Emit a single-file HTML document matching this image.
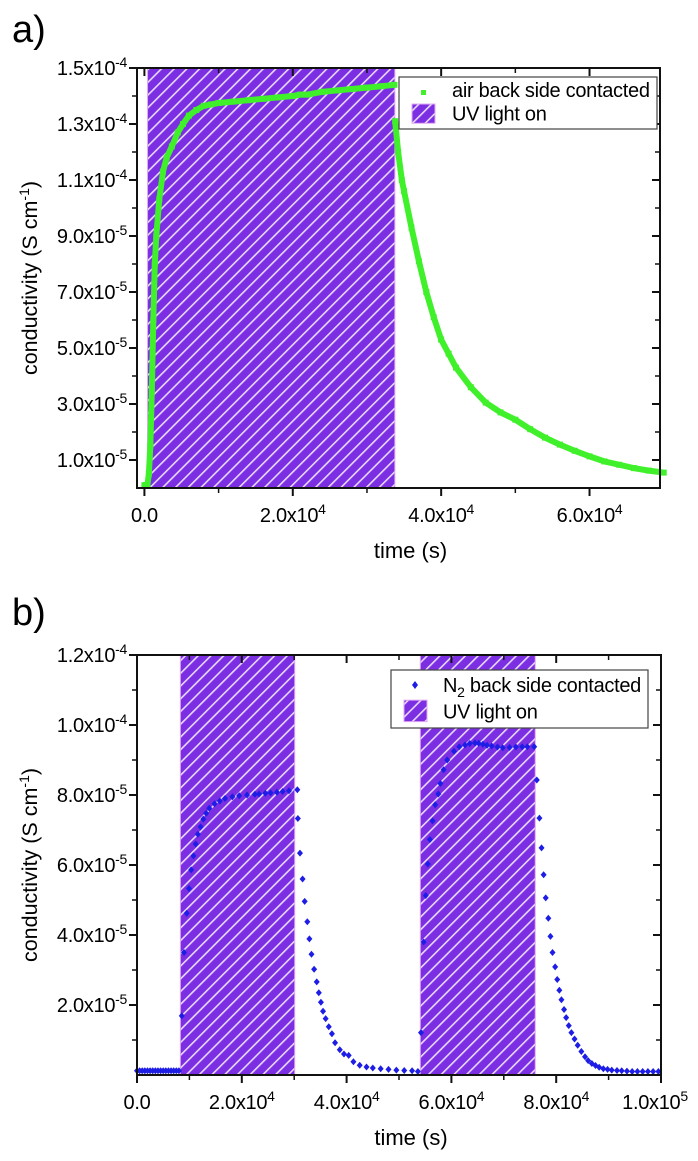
<!DOCTYPE html>
<html><head><meta charset="utf-8"><style>
html,body{margin:0;padding:0;background:#fff;}
svg{display:block;font-family:"Liberation Sans",Arial,sans-serif;}
</style></head><body>
<svg id="chart" width="698" height="1161" viewBox="0 0 698 1161">
<defs>
<pattern id="hatch" patternUnits="userSpaceOnUse" width="9" height="9" patternTransform="rotate(45)">
<rect width="9" height="9" fill="#7c2fe2"/>
<rect x="0" y="0" width="1.6" height="9" fill="#e8d8ff"/>
</pattern>
</defs>
<text x="12" y="42" font-size="38">a)</text>
<text x="12" y="625" font-size="38">b)</text>
<g id="pa"></g>
<g id="pb"></g>
</svg>
<script>
// ---- Panel a data ----
const aTimes = [0,200,400,600,800,1000,1200,1400,1600,2000,2500,3000,3700,4500,5200,6000,7000,8000,9000,10000,12000,14000,16000,18000,20000,21000,22000,24000,26000,28000,30000,32000,33700,
33800,34200,34700,35000,36000,37000,38000,39000,40000,41000,42000,44000,46000,48000,50000,52000,54000,56000,58000,60000,62000,64000,66000,68000,70000];
const aValues = [0.1,0.1,0.1,0.5,1.5,3.5,6,8,9,10.3,11.3,11.8,12.2,12.7,13.0,13.3,13.5,13.65,13.7,13.75,13.8,13.85,13.9,13.95,14.0,14.05,14.05,14.15,14.2,14.25,14.3,14.35,14.4,
13.1,12.0,11.0,10.6,9.3,8.1,7.0,6.1,5.3,4.8,4.3,3.6,3.05,2.7,2.44,2.1,1.8,1.55,1.33,1.13,0.95,0.83,0.71,0.62,0.55];
const aUV = [420, 33760];
const aYTicks = [1.0e-5,3.0e-5,5.0e-5,7.0e-5,9.0e-5,1.1e-4,1.3e-4,1.5e-4];
const aYTickLabels = [["1.0","-5"],["3.0","-5"],["5.0","-5"],["7.0","-5"],["9.0","-5"],["1.1","-4"],["1.3","-4"],["1.5","-4"]];
const aXTicks = [0,20000,40000,60000];
const aXTickLabels = [["0.0",""],["2.0","4"],["4.0","4"],["6.0","4"]];

// ---- Panel b data ----
const bTimes = [0,500,1000,1500,2000,2500,3000,3500,4000,4500,5000,5500,6000,6500,7000,7500,8000,
8550,8970,9490,9920,10340,10770,11200,11620,12140,12650,13200,13800,14800,15800,16800,18200,19500,21000,22500,23300,24500,25500,26700,27800,29000,30600,
30700,31100,31600,32000,32500,32900,33300,33800,34300,34700,35100,35500,36000,36600,37200,37800,38700,39500,40400,41300,42500,43800,45000,46500,48000,49500,51000,52500,53600,
54200,54700,55100,55500,55900,56400,56900,57500,57900,58500,59200,60500,61500,62600,63500,64500,65200,66000,66800,67700,68800,69800,71100,72300,73500,74500,75800,
76300,76800,77200,77600,78000,78500,78900,79300,79800,80200,80600,81000,81500,81900,82400,82900,83500,84100,84800,85500,86100,86800,87500,88200,89000,89800,90600,91600,92500,93500,94500,95500,96500,97500,98500,99500];
const bValues = [0.12,0.12,0.12,0.12,0.12,0.12,0.12,0.12,0.12,0.12,0.12,0.12,0.12,0.12,0.12,0.12,0.12,
1.69,3.5,4.62,5.33,5.86,6.26,6.6,6.88,7.09,7.31,7.48,7.62,7.75,7.83,7.9,7.95,7.98,8.0,8.02,8.03,8.05,8.06,8.08,8.1,8.12,8.15,
7.33,6.34,5.6,4.96,4.38,3.89,3.45,3.02,2.66,2.35,2.08,1.82,1.61,1.38,1.18,0.92,0.72,0.6,0.56,0.38,0.28,0.23,0.2,0.18,0.16,0.14,0.13,0.12,0.1,
1.21,3.8,5.13,6.03,6.73,7.26,7.72,8.03,8.33,8.72,9.0,9.25,9.38,9.43,9.47,9.49,9.48,9.45,9.42,9.4,9.37,9.35,9.36,9.37,9.38,9.38,9.38,
8.43,7.34,6.49,5.72,5.06,4.48,3.96,3.5,3.09,2.73,2.42,2.15,1.87,1.64,1.41,1.21,1.03,0.85,0.67,0.52,0.41,0.33,0.27,0.22,0.18,0.16,0.14,0.13,0.12,0.11,0.1,0.1,0.1,0.1,0.1,0.1];
const bUV = [[8280, 30100],[54070, 76000]];
const bYTicks = [2e-5,4e-5,6e-5,8e-5,1e-4,1.2e-4];
const bYTickLabels = [["2.0","-5"],["4.0","-5"],["6.0","-5"],["8.0","-5"],["1.0","-4"],["1.2","-4"]];
const bXTicks = [0,20000,40000,60000,80000,100000];
const bXTickLabels = [["0.0",""],["2.0","4"],["4.0","4"],["6.0","4"],["8.0","4"],["1.0","5"]];

const NS = "http://www.w3.org/2000/svg";
function mk(parent, tag, attrs){const e=document.createElementNS(NS,tag);for(const k in attrs)e.setAttribute(k,attrs[k]);parent.appendChild(e);return e;}

function sciLabel(g, x, y, parts, anchor){
  const t = mk(g,'text',{x:x,y:y,'font-size':20,'text-anchor':anchor,'letter-spacing':'-0.3'});
  
  
  if(parts[1]===""){t.textContent=parts[0];return t;}
  const a=document.createElementNS(NS,'tspan');a.textContent=parts[0]+"x10";t.appendChild(a);
  const b=document.createElementNS(NS,'tspan');b.setAttribute('dy','-8');b.setAttribute('font-size','14');b.textContent=parts[1];t.appendChild(b);
  return t;
}

function drawPanel(g, cfg){
  const {L,R,T,B,x0,x1,y0,y1} = cfg;
  const sx = v => L + (v-x0)/(x1-x0)*(R-L);
  const sy = v => B - (v-y0)/(y1-y0)*(B-T);
  cfg.uv.forEach(u=>{
    const r = mk(g,'rect',{x:sx(u[0]),y:T,width:sx(u[1])-sx(u[0]),height:B-T,fill:'url(#hatch)',stroke:'#e0a8f0','stroke-width':1});
    
    
  });
  if(cfg.line){
    const pts = cfg.times.map((t,i)=>sx(t)+','+sy(cfg.values[i]*1e-5));
    const p1 = pts.slice(0,cfg.breakAt), p2 = pts.slice(cfg.breakAt);
    [p1,p2].forEach(p=>{
      const pl = mk(g,'polyline',{points:p.join(' '),fill:'none',stroke:cfg.color,'stroke-width':6,'stroke-linejoin':'round'});
      
      
    });
    cfg.times.forEach((t,i)=>{
      const r = mk(g,'rect',{x:sx(t)-3,y:sy(cfg.values[i]*1e-5)-3,width:6,height:6,fill:cfg.color});
      
      
    });
  } else {
    cfg.times.forEach((t,i)=>{
      const cx=sx(t), cy=sy(cfg.values[i]*1e-5);
      const d = mk(g,'polygon',{points:`${cx},${cy-3.5} ${cx+3},${cy} ${cx},${cy+3.5} ${cx-3},${cy}`,fill:cfg.color});
      
      
    });
  }
  const f = mk(g,'rect',{x:L,y:T,width:R-L,height:B-T,fill:'none',stroke:'#111','stroke-width':2});
  
  
  const yStep = cfg.yTicks[1]-cfg.yTicks[0];
  cfg.yTicks.forEach((v,i)=>{
    const y = sy(v);
    mk(g,'line',{x1:L-8,x2:L,y1:y,y2:y,stroke:'#111','stroke-width':2});
    mk(g,'line',{x1:R-8,x2:R,y1:y,y2:y,stroke:'#111','stroke-width':2});
    const ym = sy(v - yStep/2);
    if(ym<B-2){mk(g,'line',{x1:L-5,x2:L,y1:ym,y2:ym,stroke:'#111','stroke-width':1.5});mk(g,'line',{x1:R-5,x2:R,y1:ym,y2:ym,stroke:'#111','stroke-width':1.5});}
    sciLabel(g, L-10, y+7, cfg.yLabels[i], 'end');
  });
  const xStep = cfg.xTicks[1]-cfg.xTicks[0];
  cfg.xTicks.forEach((v,i)=>{
    const x = sx(v);
    mk(g,'line',{x1:x,x2:x,y1:B,y2:B+8,stroke:'#111','stroke-width':2});
    mk(g,'line',{x1:x,x2:x,y1:T,y2:T+8,stroke:'#111','stroke-width':2});
    const xm = sx(v + xStep/2);
    if(xm<R-2){mk(g,'line',{x1:xm,x2:xm,y1:B,y2:B+5,stroke:'#111','stroke-width':1.5});mk(g,'line',{x1:xm,x2:xm,y1:T,y2:T+5,stroke:'#111','stroke-width':1.5});}
    sciLabel(g, x+(cfg.xLabelShift[i]||0), B+34, cfg.xLabels[i], 'middle');
  });
  const xt = mk(g,'text',{x:(L+R)/2+12,y:B+70,'font-size':22,'text-anchor':'middle'});
  xt.textContent='time (s)';
  
  
  const cy=(T+B)/2;
  const yt = mk(g,'text',{x:0,y:0,'font-size':21.5,'text-anchor':'middle',transform:`translate(37,${cy}) rotate(-90)`});
  
  
  const s1=document.createElementNS(NS,'tspan');s1.textContent='conductivity (S cm';yt.appendChild(s1);
  const s2=document.createElementNS(NS,'tspan');s2.setAttribute('dy','-8');s2.setAttribute('font-size','14');s2.textContent='-1';yt.appendChild(s2);
  const s3=document.createElementNS(NS,'tspan');s3.setAttribute('dy','8');s3.textContent=')';yt.appendChild(s3);
  const lg = cfg.legend;
  const lgG = mk(g,'g',{});
  
  
  mk(lgG,'rect',{x:lg.x,y:lg.y,width:lg.w,height:lg.h,fill:'#fff',stroke:'#444','stroke-width':1.2});
  if(cfg.line) mk(lgG,'rect',{x:lg.x+22,y:lg.y+13,width:5,height:5,fill:cfg.color});
  else mk(lgG,'polygon',{points:`${lg.x+24},${lg.y+11} ${lg.x+27},${lg.y+15} ${lg.x+24},${lg.y+19} ${lg.x+21},${lg.y+15}`,fill:cfg.color});
  mk(lgG,'rect',{x:lg.x+13,y:lg.y+lg.h*0.52,width:23,height:lg.h*0.37,fill:'url(#hatch)',stroke:'#e0a8f0','stroke-width':1});
  const t1 = mk(lgG,'text',{x:lg.x+lg.tx,y:lg.y+lg.h*0.38,'font-size':20,'letter-spacing':'-0.3'});
  
  
  if(cfg.line) t1.textContent='air back side contacted';
  else { const a=document.createElementNS(NS,'tspan');a.textContent='N';t1.appendChild(a);
    const b=document.createElementNS(NS,'tspan');b.setAttribute('dy','5');b.setAttribute('font-size','14');b.textContent='2';t1.appendChild(b);
    const c=document.createElementNS(NS,'tspan');c.setAttribute('dy','-5');c.textContent=' back side contacted';t1.appendChild(c);}
  const t2 = mk(lgG,'text',{x:lg.x+lg.tx,y:lg.y+lg.h*0.84,'font-size':20,'letter-spacing':'-0.3'});
  t2.textContent='UV light on';
  
  
}

drawPanel(document.getElementById('pa'),{L:137,R:660,T:68,B:488,x0:-1000,x1:69500,y0:0,y1:1.5e-4,
  times:aTimes,values:aValues,breakAt:33,line:true,color:'#3ff02a',uv:[aUV],
  yTicks:aYTicks,yLabels:aYTickLabels,xTicks:aXTicks,xLabels:aXTickLabels,xLabelShift:[0,0,0,0],
  legend:{x:399,y:77,w:258,h:52,tx:53}});
drawPanel(document.getElementById('pb'),{L:137,R:661,T:655,B:1075,x0:0,x1:100000,y0:0,y1:1.2e-4,
  times:bTimes,values:bValues,line:false,color:'#1d1de6',uv:bUV,
  yTicks:bYTicks,yLabels:bYTickLabels,xTicks:bXTicks,xLabels:bXTickLabels,xLabelShift:[0,0,0,0,0,-6],
  legend:{x:391,y:670,w:257,h:58,tx:52}});
</script>
</body></html>
